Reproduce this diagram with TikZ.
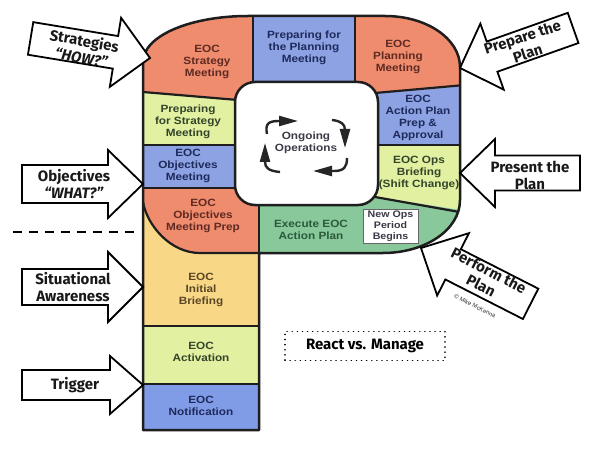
\documentclass[tikz,border=0pt]{standalone}
\usepackage{fontspec}
\setmainfont{Liberation Sans}
\newfontfamily\boxfont{Liberation Sans}[FakeStretch=1.12]
\newfontfamily\lblfont{Fira Sans}
\usetikzlibrary{arrows.meta}
\definecolor{cred}{HTML}{F08C6E}
\definecolor{cblue}{HTML}{8CA2E2}
\definecolor{cblueb}{HTML}{809CE6}
\definecolor{clgreen}{HTML}{E2F0A2}
\definecolor{cyellow}{HTML}{F8D886}
\definecolor{cgreen}{HTML}{88C89A}
\definecolor{pline}{HTML}{1E1E1E}
\definecolor{ctext}{HTML}{3A3A48}
\definecolor{trtext}{HTML}{5E2A22}
\definecolor{tbtext}{HTML}{1F2A5C}
\definecolor{tltext}{HTML}{34452A}
\definecolor{tytext}{HTML}{5A4626}
\definecolor{cgtext}{HTML}{2A5A3C}
\tikzset{
  divider/.style={line width=2.2pt, draw=pline},
  boxtext/.style={align=center, font=\boxfont\bfseries\fontsize{10.5}{12}\selectfont, text=ctext, inner sep=0pt},
  lbltext/.style={align=center, font=\lblfont\bfseries\fontsize{15}{17}\selectfont, text=black!90, inner sep=0pt},
  barrow/.style={draw=black, fill=white, line width=1.8pt, line join=miter},
  cyc/.style={line width=2.4pt, draw=black!85, -{Triangle[length=19pt,width=10pt]}},
}
\newcommand\barr[7]{%
  \draw[barrow, shift={(#1,#2)}, rotate=#3] (0,0) -- (-#7,-#6) -- (-#7,-#5) -- (-#4,-#5) -- (-#4,#5) -- (-#7,#5) -- (-#7,#6) -- cycle;}
\def\Ppath{(143,62) .. controls (143,36) and (190,16) .. (248,16) -- (385,16) .. controls (427,16) and (460,39) .. (460,67) -- (460,200) .. controls (460,230) and (425,253) .. (383,253) -- (259,253) -- (259,430) -- (143,430) -- cycle}
\begin{document}
\begin{tikzpicture}[x=1pt,y=-1pt]
\useasboundingbox (0,0) rectangle (599,449);
\fill[white] (0,0) rectangle (599,449);

% regions
\begin{scope}
\clip \Ppath;
\fill[cred] (100,0) -- (253,0) -- (253,120) -- (236,100) -- (143,92) -- (100,92) -- cycle;
\fill[clgreen] (100,92) -- (143,92) -- (236,100) -- (245,100) -- (245,145) -- (100,145) -- cycle;
\fill[cblue] (100,145) rectangle (245,188);
\fill[cred] (100,188) -- (259,188) -- (259,253) -- (200,253) .. controls (170,253) and (147,225) .. (143,202) -- (100,202) -- cycle;
\fill[cyellow] (100,202) -- (143,202) .. controls (147,225) and (170,253) .. (200,253) -- (259,253) -- (259,326) -- (100,326) -- cycle;
\fill[clgreen] (100,326) rectangle (259,384);
\fill[cblueb] (100,384) rectangle (259,440);
\fill[cblue] (253,0) rectangle (355,120);
\fill[cred] (355,0) -- (480,0) -- (480,85) -- (377,93) -- (355,120) -- cycle;
\fill[cblue] (360,94) -- (377,93) -- (480,85) -- (480,145) -- (360,145) -- cycle;
\fill[clgreen] (360,145) -- (480,145) -- (480,213) -- (377,197) -- (360,197) -- cycle;
\fill[cgreen] (259,190) -- (360,190) -- (377,197) -- (480,213) -- (480,260) -- (259,260) -- cycle;
\draw[divider] (143,92) -- (238,100);
\draw[divider] (143,145) -- (238,145);
\draw[divider] (143,188) -- (238,188);
\draw[divider] (253,10) -- (253,85);
\draw[divider] (355,10) -- (355,85);
\draw[divider] (375,93) -- (465,85);
\draw[divider] (375,145) -- (465,145);
\draw[divider] (375,197) -- (465,213);
\draw[divider] (259,200) -- (259,253);
\draw[divider] (143,202) .. controls (147,225) and (170,253) .. (200,253) -- (259,253);
\draw[divider] (140,326) -- (262,326);
\draw[divider] (140,384) -- (262,384);
\end{scope}
\draw[pline, line width=2.5pt, line join=round] \Ppath;
\draw[pline, line width=2.5pt, fill=white, rounded corners=20pt] (235,82) rectangle (378,205);

% box texts
\node[boxtext, text=trtext] (strat) at (207,62) {EOC\\Strategy\\Meeting};
\node[boxtext, text=tbtext] (prepplan) at (304,48) {Preparing for\\the Planning\\Meeting};
\node[boxtext, text=trtext] (planmtg) at (398,57) {EOC\\Planning\\Meeting};
\node[boxtext, text=tltext] (prepstrat) at (188,122) {Preparing\\for Strategy\\Meeting};
\node[boxtext, text=tbtext] (objmtg) at (188,166) {EOC\\Objectives\\Meeting};
\node[boxtext, text=trtext] (objprep) at (203,216) {EOC\\Objectives\\Meeting Prep};
\node[boxtext, text=tbtext] (action) at (418,118) {EOC\\Action Plan\\Prep \&\\Approval};
\node[boxtext, text=tltext] (opsbrief) at (419,173) {EOC Ops\\Briefing\\(Shift Change)};
\node[boxtext, text=cgtext] (execute) at (311,230) {Execute EOC\\Action Plan};
\node[draw=black!60, line width=0.8pt, fill=white, minimum width=55pt, minimum height=34pt, align=center, inner sep=0pt, font=\boxfont\bfseries\fontsize{9.5}{11}\selectfont, text=ctext] (newops) at (390.5,226) {New Ops\\Period\\Begins};
\node[boxtext, text=tytext] (initbrief) at (201,290) {EOC\\Initial\\Briefing};
\node[boxtext, text=tltext] (activ) at (201,352) {EOC\\Activation};
\node[boxtext, text=tbtext] (notif) at (201,406) {EOC\\Notification};
\node[boxtext] (ongoing) at (306,143) {Ongoing\\Operations};

% cycle arrows
\coordinate (c1a) at (267,134); \coordinate (c1b) at (298,121);
\coordinate (c2a) at (332,120); \coordinate (c2b) at (345,148);
\coordinate (c3a) at (347,158); \coordinate (c3b) at (313,171);
\coordinate (c4a) at (280,172); \coordinate (c4b) at (265,143);
\draw[cyc] (c1a) .. controls (265,124) and (268,121) .. (279,121) -- (c1b);
\draw[cyc] (c2a) .. controls (341,121) and (345,124) .. (345,130) -- (c2b);
\draw[cyc] (c3a) .. controls (347,167) and (344,171) .. (334,171) -- (c3b);
\draw[cyc] (c4a) .. controls (269,171) and (265,168) .. (265,162) -- (c4b);

% block arrows: tip x, tip y, angle, L, h, H, d
\barr{150}{58}{-9.3}{121}{16.5}{35}{35}
\barr{143}{184}{0}{121}{19}{34}{35}
\barr{143}{287}{0}{121}{18}{35}{35}
\barr{143}{385}{0}{121}{15}{29}{33}
\barr{460}{68}{199.5}{120}{16}{35}{34}
\barr{460}{173}{180}{120}{17.5}{34}{35}
\barr{421}{248}{153}{123}{17}{35}{36}

% arrow labels
\node[lbltext, rotate=-10] (lstrat) at (83,49) {Strategies\\\textit{“HOW?”}};
\node[lbltext] (lobj) at (74,184) {Objectives\\\textit{“WHAT?”}};
\node[lbltext] (lsit) at (73,287) {Situational\\Awareness};
\node[lbltext] (ltrig) at (75,385) {Trigger};
\node[lbltext, rotate=18] (lprep) at (525,45) {Prepare the\\Plan};
\node[lbltext] (lpres) at (530,175) {Present the\\Plan};
\node[lbltext, rotate=-27] (lperf) at (485,278) {Perform the\\Plan};
\node[rotate=-27, font=\fontsize{6}{7}\selectfont, text=black!80, inner sep=0pt] (copy) at (475,306) {© Mike McKenna};

% dashed separator
\coordinate (dA) at (13,232);
\coordinate (dB) at (135,232);
\draw[line width=2pt, dash pattern=on 9pt off 7pt] (dA) -- (dB);

% react vs manage
\node[draw=black, line width=1.6pt, dash pattern=on 0.1pt off 5pt, line cap=round, minimum width=160pt, minimum height=29pt, font=\lblfont\bfseries\fontsize{15}{17}\selectfont, inner sep=0pt] (react) at (365,346) {React vs. Manage};
\end{tikzpicture}
\end{document}
